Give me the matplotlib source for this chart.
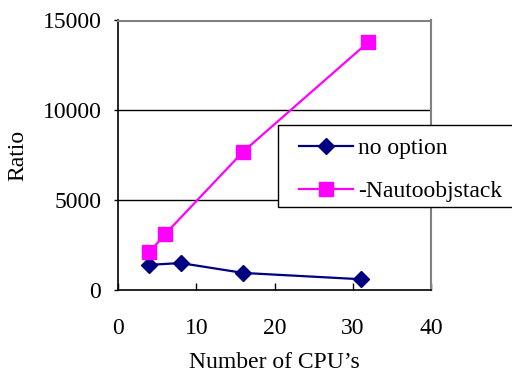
import matplotlib
matplotlib.use("Agg")
import matplotlib.pyplot as plt
from matplotlib.patches import Rectangle

cpus_no = [4, 8, 16, 31]
ratio_no = [1400, 1500, 950, 600]
cpus_na = [4, 6, 16, 32]
ratio_na = [2100, 3100, 7700, 13800]
xticks = [0, 10, 20, 30, 40]
yticks = [0, 5000, 10000, 15000]

plt.rcParams['font.family'] = ['Liberation Serif', 'DejaVu Serif']
FS = 17

fig = plt.figure(figsize=(5.12, 3.76), dpi=100)
ax = fig.add_axes([118/512, 1-290/376, (431-118)/512, (290-20.5)/376])

ax.plot(cpus_no, ratio_no, color='#000080', lw=1.6, marker='D', ms=8.5,
        label='no option', zorder=3)
ax.plot(cpus_na, ratio_na, color='#FF00FF', lw=1.6, marker='s', ms=10,
        label='-Nautoobjstack', zorder=3)

ax.set_xlim(0, 40)
ax.set_ylim(0, 15000)
ax.set_xticks(xticks)
ax.set_yticks(yticks)
ax.set_xticklabels([str(v) for v in xticks], fontsize=FS)
ax.set_yticklabels([str(v) for v in yticks], fontsize=FS)
ax.tick_params(axis='x', direction='in', length=5, width=1, pad=20, top=False)
ax.tick_params(axis='y', direction='out', length=3, width=1, pad=9, right=False)

for y in [5000, 10000]:
    ax.axhline(y, color='black', lw=1, zorder=1)

for s in ['top', 'right']:
    ax.spines[s].set_color('#808080')
    ax.spines[s].set_linewidth(1.5)
for s in ['left', 'bottom']:
    ax.spines[s].set_color('black')
    ax.spines[s].set_linewidth(1.2)

ax.set_xlabel("Number of CPU\u2019s", fontsize=FS)
ax.set_ylabel("Ratio", fontsize=FS)
ax.xaxis.set_label_coords(0.5, (290-363)/269.5, transform=ax.transAxes)
ax.yaxis.set_label_coords((18-118)/313, (290-155)/269.5, transform=ax.transAxes)
ax.xaxis.label.set_va('center')
ax.yaxis.label.set_va('center')

box = Rectangle((278/512, 1-207.3/376), 0.6, (207.3-125)/376,
                transform=fig.transFigure, facecolor='white',
                edgecolor='black', lw=1, zorder=4)
fig.patches.append(box)

leg = fig.legend(loc='upper left', bbox_to_anchor=(299/512, 1-137.5/376),
                 bbox_transform=fig.transFigure, fontsize=FS, frameon=False,
                 borderaxespad=0, borderpad=0, handlelength=2.3,
                 handletextpad=0.2, labelspacing=0.9)
leg.set_zorder(5)

fig.savefig('out.png', dpi=100)
